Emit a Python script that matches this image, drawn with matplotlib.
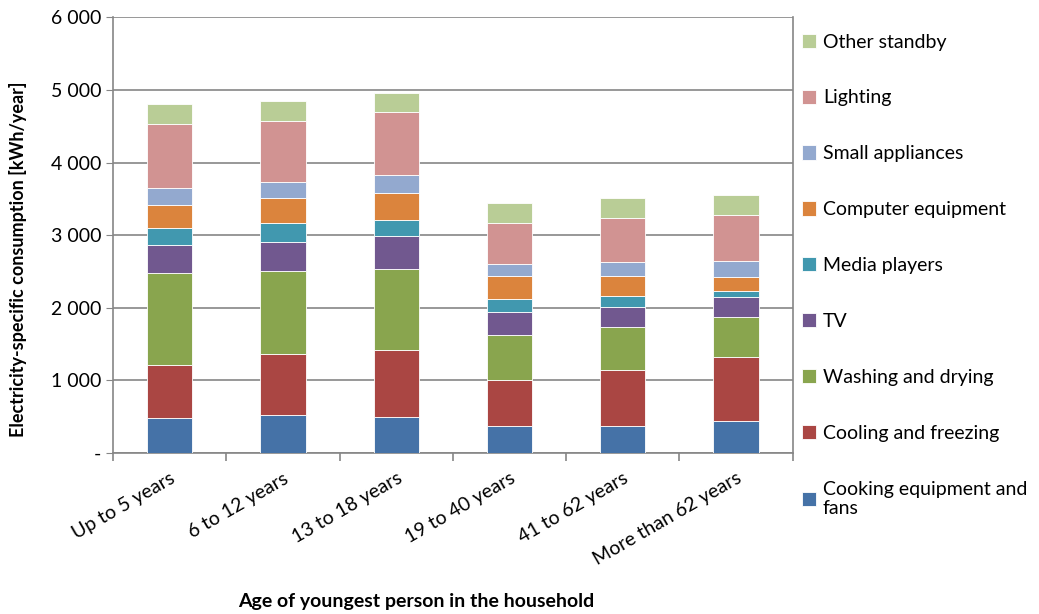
import numpy as np
import matplotlib.pyplot as plt

groups = ["Up to 5 years", "6 to 12 years", "13 to 18 years",
          "19 to 40 years", "41 to 62 years", "More than 62 years"]
series = ["Cooking equipment and\nfans", "Cooling and freezing", "Washing and drying",
          "TV", "Media players", "Computer equipment", "Small appliances",
          "Lighting", "Other standby"]
cooking = [490, 531, 504, 376, 376, 440]
cooling = [723, 838, 911, 632, 769, 888]
washing = [1273, 1140, 1117, 618, 591, 546]
tv = [385, 403, 453, 312, 270, 270]
media = [229, 256, 225, 187, 161, 91]
computer = [316, 344, 366, 316, 274, 184]
small = [229, 224, 247, 160, 183, 229]
lighting = [883, 834, 866, 569, 615, 636]
standby = [275, 279, 274, 270, 270, 271]
colors = ["#4572A7", "#AA4643", "#89A54E", "#71588F", "#4198AF",
          "#DB843D", "#93A9CF", "#D19392", "#B9CD96"]

plt.rcParams['font.family'] = ['Lato', 'DejaVu Sans']
fig = plt.figure(figsize=(10.39, 6.14), dpi=100)
ax = fig.add_axes([0.1088, 0.262, 0.654, 0.710])

x = np.arange(len(groups))
bottom = np.zeros(len(groups))
handles = []
for vals, lab, c in zip([cooking, cooling, washing, tv, media, computer, small, lighting, standby],
                        series, colors):
    b = ax.bar(x, vals, 0.4, bottom=bottom, color=c, edgecolor='white', linewidth=0.6,
               label=lab, zorder=3)
    handles.append(b)
    bottom += np.array(vals)

ax.set_xlim(-0.5, 5.5)
ax.set_ylim(0, 6000)
ax.set_yticks(np.arange(0, 6001, 1000))
ax.set_yticklabels(["-" if v == 0 else f"{v // 1000} 000" for v in range(0, 6001, 1000)])
ax.yaxis.grid(True, color='#868686', linewidth=1.2, zorder=0)
for s in ['left', 'bottom', 'right', 'top']:
    ax.spines[s].set_color('#868686')
    ax.spines[s].set_linewidth(1.2)
ax.spines['top'].set_visible(False)
ax.tick_params(axis='y', colors='#868686', length=5, labelsize=14, labelcolor='black')

ax.set_xticks(x)
ax.set_xticklabels(groups, rotation=30, ha='right', rotation_mode='anchor', fontsize=14)
ax.set_xticks(np.arange(-0.5, 5.6, 1), minor=True)
ax.tick_params(axis='x', which='major', length=0, pad=12)
ax.tick_params(axis='x', which='minor', length=6, color='#868686', width=1.2)

ax.set_ylabel("Electricity-specific consumption [kWh/year]", fontsize=13, fontweight='bold')
ax.yaxis.set_label_coords(-0.126, 0.445)
fig.text(0.401, 0.012, "Age of youngest person in the household", fontsize=14,
         fontweight='bold', ha='center')

ax.legend(handles[::-1], series[::-1], loc='upper left', bbox_to_anchor=(0.764, 0.958),
          bbox_transform=fig.transFigure, frameon=False, fontsize=14, labelspacing=2.0,
          handlelength=0.75, handleheight=0.75, handletextpad=0.35, borderaxespad=0)

fig.savefig("out.png", dpi=100)
